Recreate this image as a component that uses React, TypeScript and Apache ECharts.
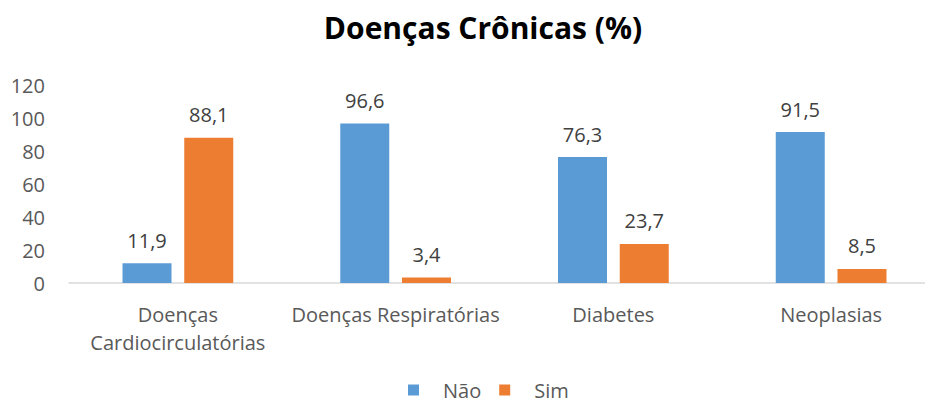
import React, { useEffect, useRef } from "react";
import * as echarts from "echarts";

const categories = ["Doenças\nCardiocirculatórias", "Doenças Respiratórias", "Diabetes", "Neoplasias"];
const naoValues = [11.9, 96.6, 76.3, 91.5];
const simValues = [88.1, 3.4, 23.7, 8.5];
const seriesNames = ["Não", "Sim"];
const titleText = "Doenças Crônicas (%)";

const FONT = "'Open Sans', Lato, sans-serif";
const TEXT = "#404040";

export default function App() {
  const ref = useRef<HTMLDivElement>(null);
  useEffect(() => {
    if (!ref.current) return;
    const chart = echarts.init(ref.current, undefined, { renderer: "svg" });
    const fmt = (p: any) => String(p.value).replace(".", ",");
    chart.setOption({
      animation: false,
      backgroundColor: "#ffffff",
      title: {
        text: titleText,
        left: 478,
        textAlign: "center",
        top: 7,
        textStyle: { fontFamily: FONT, fontSize: 30, fontWeight: "bold", color: "#000000" },
      },
      legend: {
        data: seriesNames,
        left: 403,
        top: 375,
        itemWidth: 11,
        itemHeight: 11,
        itemGap: 18,
        icon: "rect",
        textStyle: { fontFamily: FONT, fontSize: 20, color: "#595959", padding: [0, 0, 0, 19] },
      },
      grid: { left: 69, top: 85, height: 198, width: 871, containLabel: false },
      xAxis: {
        type: "category",
        data: categories,
        axisLine: { show: true, lineStyle: { color: "#D9D9D9", width: 1.5 } },
        axisTick: { show: false },
        axisLabel: {
          fontFamily: FONT,
          fontSize: 20,
          color: "#595959",
          margin: 17,
          lineHeight: 28,
          interval: 0,
        },
      },
      yAxis: {
        type: "value",
        min: 0,
        max: 120,
        interval: 20,
        splitLine: { show: false },
        axisLine: { show: false },
        axisTick: { show: false },
        axisLabel: { fontFamily: FONT, fontSize: 20, color: "#595959", margin: 24 },
      },
      series: [
        {
          name: seriesNames[0],
          type: "bar",
          data: naoValues,
          barWidth: 49,
          barGap: "26%",
          itemStyle: { color: "#5B9BD5" },
          label: { show: true, position: "top", distance: 13, formatter: fmt, fontFamily: FONT, fontSize: 20, color: TEXT },
        },
        {
          name: seriesNames[1],
          type: "bar",
          data: simValues,
          barWidth: 49,
          barGap: "26%",
          itemStyle: { color: "#ED7D31" },
          label: { show: true, position: "top", distance: 13, formatter: fmt, fontFamily: FONT, fontSize: 20, color: TEXT },
        },
      ],
    });
    return () => chart.dispose();
  }, []);
  return (
    <div style={{ width: 925, height: 402, position: "absolute", left: 0, top: 0, overflow: "hidden" }}>
      <div ref={ref} style={{ width: 945, height: 402 }} />
    </div>
  );
}
